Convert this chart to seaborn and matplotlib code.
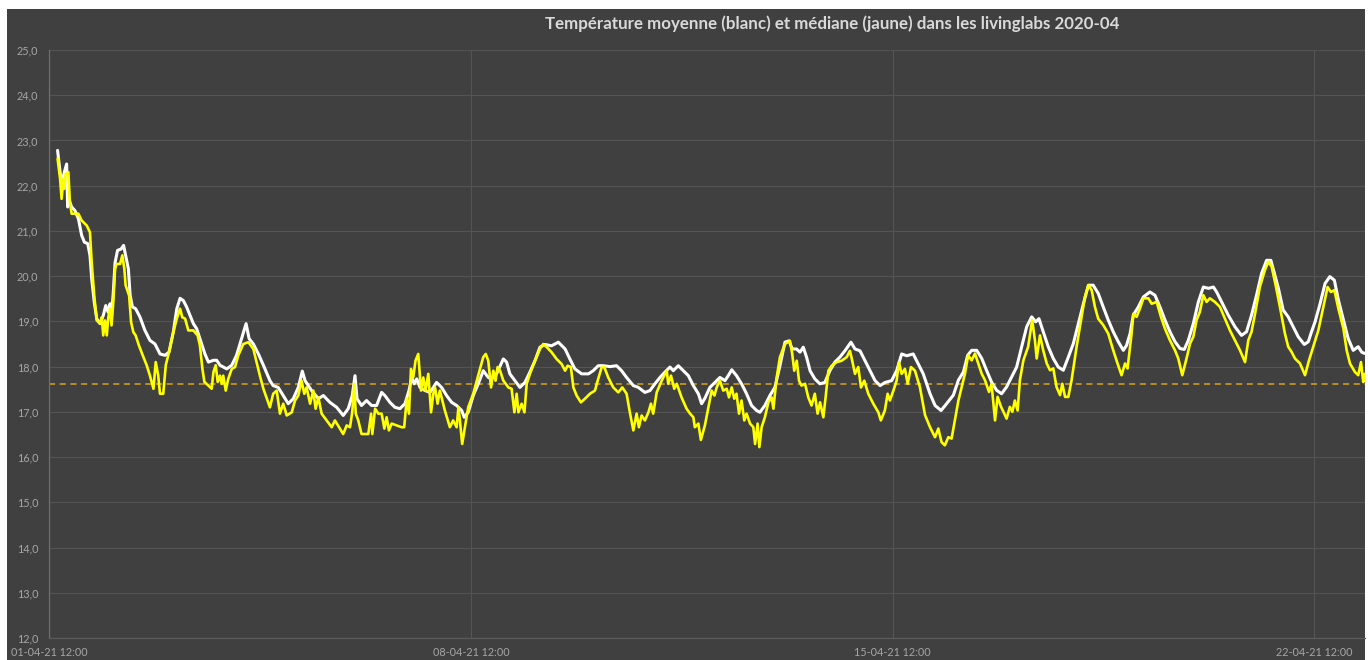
import matplotlib
matplotlib.use("Agg")
import matplotlib.pyplot as plt
import matplotlib.dates as mdates
from matplotlib.patches import Rectangle
from matplotlib.ticker import FuncFormatter, MultipleLocator
import numpy as np
import pandas as pd
import seaborn as sns

# ---------------- data ----------------
title = "Température moyenne (blanc) et médiane (jaune) dans les livinglabs 2020-04"
start_time = "2021-04-01 12:00"
tick_labels_times = ["2021-04-01 12:00", "2021-04-08 12:00", "2021-04-15 12:00", "2021-04-22 12:00"]
median_reference = 17.62

# hours after 01-04-21 12:00 and mean temperature (white)
mean_hours = [
    3.3, 4.3, 5.0, 6.0, 6.9, 7.3, 7.8, 8.9, 10.2, 11.6, 12.9, 14.0, 15.3, 16.2, 16.9, 17.9, 18.9, 20.2,
    21.5, 22.5, 23.5, 24.2, 24.8, 25.5, 26.2, 27.2, 28.6, 29.6, 30.4, 31.5, 32.2, 33.1, 34.4, 36.1, 38.1,
    40.1, 42.1, 44.1, 46.1, 47.7, 49.4, 50.8, 52.1, 53.4, 54.7, 56.1, 57.4, 58.7, 60.0, 62.0, 63.4, 65.4,
    66.7, 68.0, 70.7, 72.7, 74.6, 76.6, 78.4, 79.6, 81.3, 83.3, 85.3, 87.9, 89.2, 91.2, 93.2, 95.2, 97.2,
    99.2, 100.8, 101.9, 104.5, 107.2, 109.2, 111.8, 114.5, 117.1, 119.1, 120.7, 121.8, 122.6, 124.4,
    126.4, 128.4, 130.4, 132.4, 133.7, 135.7, 137.7, 139.7, 141.7, 143.3, 144.4, 145.4, 146.4, 147.7,
    149.7, 151.7, 153.0, 154.3, 156.3, 158.3, 160.3, 162.3, 164.3, 165.3, 166.9, 168.9, 170.9, 172.9,
    174.9, 176.2, 178.2, 180.9, 182.2, 183.5, 185.5, 187.5, 189.5, 191.5, 193.5, 195.5, 197.5, 200.1,
    202.8, 205.5, 207.4, 209.4, 212.1, 214.8, 216.7, 218.7, 220.7, 223.4, 226.0, 228.0, 230.0, 232.7,
    234.7, 237.3, 239.3, 241.3, 243.3, 245.3, 247.3, 248.6, 250.6, 252.6, 254.6, 256.6, 258.6, 259.9,
    261.2, 263.2, 265.2, 267.2, 269.2, 270.5, 271.9, 273.8, 275.8, 277.8, 279.8, 281.8, 283.1, 285.1,
    287.1, 289.1, 291.1, 293.1, 294.7, 296.0, 297.7, 299.1, 300.4, 301.7, 303.1, 305.0, 307.0, 309.0,
    311.0, 313.0, 315.0, 317.0, 319.4, 321.0, 323.0, 325.0, 327.0, 329.0, 331.0, 333.0, 335.6, 337.6,
    339.6, 341.6, 344.2, 346.2, 348.2, 350.9, 352.9, 355.3, 357.5, 360.2, 362.2, 364.2, 365.9, 367.5,
    369.5, 371.5, 373.4, 375.4, 377.4, 379.4, 381.4, 383.4, 385.4, 387.4, 389.4, 391.4, 393.0, 394.3,
    396.0, 398.0, 400.0, 402.0, 404.0, 406.0, 408.0, 410.0, 412.0, 414.0, 415.9, 417.9, 419.9, 421.9,
    423.9, 425.9, 427.9, 429.2, 430.6, 431.9, 433.9, 435.9, 438.5, 440.5, 442.5, 444.5, 446.5, 448.5,
    450.5, 452.2, 453.8, 455.8, 457.8, 459.8, 461.8, 463.8, 465.1, 467.1, 469.7, 472.4, 475.0, 477.0,
    479.0, 481.0, 483.0, 485.0, 486.7, 488.3, 489.7, 491.6, 493.6, 495.6, 497.6, 500.0, 501.6, 502.9,
    504.3, 506.3, 508.3, 510.2, 512.0, 513.6, 515.6, 517.5, 519.5, 521.5, 522.9, 524.1,
]
mean_temp = [
    22.78, 22.3, 22.04, 22.3, 22.48, 21.53, 21.7, 21.53, 21.45, 21.27, 20.9, 20.75, 20.72, 20.46, 19.94,
    19.43, 19.06, 18.95, 19.13, 19.35, 19.2, 19.39, 19.13, 19.65, 20.3, 20.57, 20.6, 20.68, 20.46, 20.16,
    19.58, 19.32, 19.28, 19.1, 18.8, 18.58, 18.5, 18.28, 18.25, 18.32, 18.76, 19.28, 19.51, 19.46, 19.32,
    19.13, 18.95, 18.84, 18.62, 18.28, 18.1, 18.14, 18.14, 18.03, 17.95, 18.03, 18.25, 18.62, 18.95,
    18.62, 18.5, 18.28, 18.03, 17.69, 17.58, 17.54, 17.36, 17.18, 17.29, 17.54, 17.9, 17.69, 17.47,
    17.29, 17.36, 17.21, 17.1, 16.92, 17.07, 17.36, 17.8, 17.29, 17.14, 17.25, 17.14, 17.14, 17.43,
    17.36, 17.21, 17.1, 17.07, 17.18, 17.47, 17.76, 17.62, 17.73, 17.54, 17.47, 17.43, 17.54, 17.65,
    17.54, 17.36, 17.21, 17.14, 17.03, 16.88, 16.99, 17.36, 17.62, 17.91, 17.76, 17.73, 17.84, 18.17,
    18.1, 17.84, 17.69, 17.54, 17.65, 17.88, 18.13, 18.43, 18.49, 18.46, 18.54, 18.39, 18.17, 17.95,
    17.84, 17.84, 17.91, 18.02, 18.02, 18.0, 18.02, 17.91, 17.76, 17.58, 17.54, 17.43, 17.47, 17.62,
    17.76, 17.88, 17.99, 17.91, 18.02, 17.91, 17.8, 17.58, 17.4, 17.18, 17.3, 17.54, 17.65, 17.76,
    17.69, 17.8, 17.93, 17.8, 17.62, 17.4, 17.14, 17.03, 16.99, 17.14, 17.36, 17.54, 18.02, 18.54,
    18.57, 18.39, 18.39, 18.32, 18.43, 18.21, 17.91, 17.73, 17.62, 17.65, 17.91, 18.1, 18.21, 18.35,
    18.54, 18.39, 18.35, 18.13, 17.91, 17.69, 17.58, 17.65, 17.69, 17.91, 18.28, 18.24, 18.28, 18.06,
    17.84, 17.4, 17.14, 17.03, 17.18, 17.37, 17.7, 17.88, 18.25, 18.36, 18.36, 18.18, 17.92, 17.66,
    17.48, 17.4, 17.55, 17.77, 17.99, 18.44, 18.88, 19.1, 18.99, 19.06, 18.77, 18.44, 18.18, 17.99,
    17.92, 18.21, 18.51, 18.95, 19.39, 19.8, 19.8, 19.62, 19.32, 19.03, 18.77, 18.55, 18.36, 18.47,
    18.73, 19.14, 19.32, 19.54, 19.65, 19.58, 19.32, 19.03, 18.77, 18.55, 18.4, 18.38, 18.58, 18.95,
    19.43, 19.76, 19.73, 19.76, 19.65, 19.43, 19.14, 18.88, 18.69, 18.77, 19.14, 19.58, 20.06, 20.35,
    20.35, 20.02, 19.73, 19.25, 19.1, 18.88, 18.66, 18.49, 18.55, 18.77, 18.99, 19.39, 19.84, 19.99,
    19.91, 19.47, 19.03, 18.62, 18.36, 18.44, 18.32, 18.29,
]

# hours after 01-04-21 12:00 and median temperature (yellow)
median_hours = [
    3.3, 4.3, 4.9, 5.6, 6.0, 6.5, 7.6, 8.2, 8.9, 11.6, 12.9, 14.9, 16.2, 16.9, 17.9, 18.9, 20.2, 20.9,
    21.5, 22.2, 22.9, 23.5, 24.2, 24.8, 25.5, 26.2, 26.8, 28.2, 29.1, 29.9, 30.4, 31.8, 32.6, 33.5, 34.4,
    35.7, 37.5, 38.8, 40.1, 41.5, 42.4, 43.4, 44.1, 45.4, 46.4, 47.7, 49.4, 50.8, 52.1, 53.0, 54.1, 55.4,
    57.4, 59.1, 60.0, 61.0, 61.8, 63.4, 64.7, 65.4, 66.3, 67.1, 68.0, 68.7, 69.3, 70.3, 71.3, 72.7, 74.0,
    75.3, 77.3, 79.3, 81.3, 82.6, 83.9, 85.3, 87.9, 89.2, 90.6, 91.9, 93.2, 94.6, 96.6, 97.9, 99.2, 100.5,
    101.6, 102.5, 103.9, 105.2, 106.1, 107.2, 108.5, 110.5, 112.5, 113.8, 115.8, 117.1, 118.5, 119.8,
    120.7, 121.5, 122.1, 123.1, 124.4, 127.1, 128.2, 128.7, 129.8, 131.1, 132.4, 133.5, 134.4, 135.3,
    136.4, 138.4, 140.4, 141.4, 142.4, 143.3, 144.1, 145.0, 145.9, 147.0, 148.1, 149.0, 149.9, 151.0,
    152.1, 153.0, 153.7, 154.7, 155.6, 157.6, 159.6, 160.9, 162.3, 163.0, 163.6, 164.5, 165.6, 166.9,
    168.9, 170.3, 171.6, 172.9, 173.9, 174.9, 176.0, 176.9, 177.8, 178.6, 179.6, 180.9, 182.9, 184.2,
    185.3, 186.2, 186.9, 188.2, 189.3, 190.2, 191.5, 193.5, 195.5, 196.8, 198.2, 200.1, 202.1, 204.1,
    205.5, 206.5, 207.8, 208.8, 210.1, 211.8, 213.4, 215.4, 217.4, 218.7, 220.1, 221.1, 222.7, 224.7,
    226.7, 228.3, 230.0, 231.4, 232.7, 234.0, 234.9, 236.0, 237.3, 238.7, 239.7, 240.6, 242.0, 244.0,
    246.0, 246.6, 247.7, 249.0, 250.0, 251.9, 253.9, 255.3, 256.6, 257.2, 258.6, 259.6, 261.2, 262.6,
    263.9, 265.0, 265.9, 267.2, 268.5, 269.9, 270.8, 271.9, 272.9, 273.8, 274.8, 275.8, 276.9, 277.8,
    279.2, 280.5, 281.2, 282.2, 282.9, 283.8, 285.1, 286.5, 287.8, 288.5, 289.8, 291.1, 293.1, 295.1,
    296.0, 296.8, 297.8, 298.7, 299.7, 301.1, 302.4, 303.7, 305.0, 306.1, 307.1, 308.4, 309.3, 310.4,
    311.7, 313.7, 315.7, 317.7, 319.0, 319.9, 321.0, 322.3, 323.4, 324.7, 326.3, 328.3, 330.3, 331.3,
    332.9, 334.0, 334.9, 336.3, 337.6, 338.5, 339.6, 340.9, 342.0, 343.3, 344.9, 346.9, 348.9, 350.9,
    352.9, 354.2, 355.5, 356.8, 358.2, 359.5, 360.8, 362.2, 363.5, 364.8, 366.1, 367.5, 368.8, 370.1,
    371.5, 372.8, 374.4, 375.4, 376.8, 377.8, 379.2, 380.5, 381.4, 382.7, 383.7, 384.7, 385.8, 386.7,
    388.1, 390.0, 391.6, 392.7, 393.4, 394.7, 396.0, 397.4, 398.7, 400.0, 401.3, 402.7, 403.6, 404.7,
    406.0, 407.3, 409.3, 411.3, 412.6, 414.0, 415.3, 416.6, 417.9, 419.9, 421.9, 423.9, 425.6, 427.2,
    428.6, 429.6, 431.2, 431.9, 433.2, 434.5, 435.9, 437.9, 439.2, 441.2, 442.9, 444.5, 446.5, 448.5,
    449.8, 451.4, 453.1, 454.5, 455.8, 457.1, 458.4, 459.8, 461.1, 462.4, 464.4, 466.4, 468.4, 470.4,
    472.4, 474.4, 476.4, 477.7, 479.0, 480.4, 482.3, 484.3, 485.7, 487.0, 488.6, 490.3, 492.3, 493.6,
    495.0, 496.3, 498.3, 500.3, 501.9, 503.6, 505.6, 507.6, 509.3, 510.6, 512.0, 513.6, 515.6, 516.9,
    518.2, 520.2, 521.5, 522.6, 523.5, 524.1,
]
median_temp = [
    22.6, 22.15, 21.71, 22.15, 21.93, 22.26, 22.3, 21.64, 21.38, 21.38, 21.23, 21.12, 20.97, 20.3, 19.57,
    19.02, 18.95, 19.09, 18.69, 19.02, 18.69, 19.09, 19.28, 18.91, 19.43, 20.16, 20.27, 20.27, 20.46,
    20.16, 19.8, 19.57, 18.98, 18.76, 18.69, 18.47, 18.21, 18.03, 17.8, 17.51, 18.1, 17.8, 17.4, 17.4,
    18.03, 18.32, 18.76, 19.06, 19.28, 19.09, 19.06, 18.8, 18.8, 18.69, 18.47, 17.95, 17.66, 17.58,
    17.51, 17.88, 18.03, 17.66, 17.8, 17.62, 17.8, 17.47, 17.73, 17.95, 17.99, 18.25, 18.5, 18.54,
    18.39, 18.1, 17.8, 17.51, 17.1, 17.4, 17.47, 16.96, 17.18, 16.92, 16.99, 17.25, 17.36, 17.69, 17.4,
    17.54, 17.18, 17.47, 17.07, 17.32, 16.96, 16.81, 16.66, 16.81, 16.63, 16.51, 16.7, 16.66, 16.99,
    17.62, 16.96, 16.81, 16.51, 16.51, 16.96, 16.51, 17.07, 16.96, 16.96, 16.63, 16.88, 16.59, 16.74,
    16.7, 16.66, 16.66, 17.29, 16.96, 17.95, 17.76, 18.13, 18.28, 17.47, 17.76, 17.47, 17.84, 16.99,
    17.4, 17.54, 17.18, 17.47, 17.03, 16.66, 16.81, 16.66, 17.1, 16.81, 16.29, 16.66, 17.1, 17.4, 17.69,
    17.95, 18.21, 18.28, 18.13, 17.54, 17.91, 17.69, 17.99, 17.91, 17.69, 17.54, 17.51, 16.99, 17.4,
    16.99, 17.18, 16.99, 17.62, 17.84, 18.13, 18.39, 18.5, 18.43, 18.32, 18.17, 18.06, 17.91, 18.02,
    17.99, 17.54, 17.36, 17.21, 17.29, 17.4, 17.47, 17.73, 17.99, 17.99, 17.76, 17.54, 17.43, 17.54,
    17.4, 16.96, 16.59, 16.96, 16.66, 16.92, 16.81, 16.99, 17.18, 16.96, 17.43, 17.69, 17.91, 17.62,
    17.8, 17.51, 17.62, 17.32, 17.07, 16.96, 16.88, 16.66, 16.74, 16.38, 16.7, 17.1, 17.47, 17.36,
    17.54, 17.69, 17.47, 17.51, 17.32, 17.54, 17.29, 17.4, 16.96, 17.25, 16.81, 16.96, 16.74, 16.66,
    16.29, 16.74, 16.22, 16.66, 16.88, 17.21, 17.32, 17.07, 17.76, 18.21, 18.5, 18.57, 18.28, 17.91,
    18.13, 17.69, 17.58, 17.62, 17.32, 17.14, 17.4, 16.96, 17.21, 16.88, 17.32, 17.91, 18.02, 18.1,
    18.13, 18.21, 18.35, 18.13, 17.84, 17.99, 17.54, 17.69, 17.4, 17.18, 16.99, 16.81, 17.03, 17.4,
    17.25, 17.47, 17.69, 18.1, 17.84, 17.95, 17.62, 17.99, 17.91, 17.54, 16.93, 16.66, 16.44, 16.63,
    16.33, 16.26, 16.44, 16.41, 16.81, 17.25, 17.55, 17.84, 18.25, 18.14, 18.29, 18.07, 17.84, 17.7,
    17.44, 17.62, 16.81, 17.33, 17.11, 16.96, 16.85, 17.11, 17.0, 17.25, 17.03, 17.7, 18.14, 18.44,
    19.03, 18.58, 18.18, 18.69, 18.36, 18.07, 17.92, 17.96, 17.55, 17.37, 17.62, 17.33, 17.33, 17.7,
    18.44, 19.1, 19.54, 19.8, 19.69, 19.32, 19.06, 18.92, 18.73, 18.36, 18.07, 17.81, 18.07, 17.96,
    18.73, 19.17, 19.1, 19.28, 19.51, 19.51, 19.39, 19.43, 19.1, 18.84, 18.58, 18.36, 18.18, 17.81,
    18.18, 18.51, 18.66, 19.03, 19.21, 19.58, 19.43, 19.51, 19.43, 19.32, 19.06, 18.8, 18.58, 18.36,
    18.1, 18.58, 18.77, 19.17, 19.76, 20.13, 20.32, 20.21, 19.8, 19.32, 18.73, 18.44, 18.32, 18.18,
    18.07, 17.81, 18.14, 18.44, 18.8, 19.32, 19.76, 19.65, 19.69, 19.28, 18.84, 18.36, 18.07, 17.88,
    17.81, 18.1, 17.66, 17.84,
]

# ---------------- build frames ----------------
t0 = pd.Timestamp(start_time)
mean_df = pd.DataFrame({"time": t0 + pd.to_timedelta(mean_hours, unit="h"), "temp": mean_temp})
median_df = pd.DataFrame({"time": t0 + pd.to_timedelta(median_hours, unit="h"), "temp": median_temp})

# ---------------- style ----------------
BG = "#404040"
GRID = "#545454"
sns.set_style("dark", rc={"axes.facecolor": BG, "figure.facecolor": "white",
                          "grid.color": GRID, "axes.edgecolor": GRID})
plt.rcParams["font.family"] = ["Lato", "DejaVu Sans"]

W, H = 1368, 660
fig = plt.figure(figsize=(W / 100, H / 100), dpi=100)
fig.patches.append(Rectangle((7 / W, 0), (1365 - 7) / W, 651 / H, transform=fig.transFigure,
                             facecolor=BG, edgecolor="none", zorder=-10))
ax = fig.add_axes([49.3 / W, 22 / H, (1365 - 49.3) / W, 588 / H])
ax.set_facecolor(BG)

sns.lineplot(data=mean_df, x="time", y="temp", ax=ax, color="white", linewidth=2.2,
             estimator=None, sort=False, zorder=3)
sns.lineplot(data=median_df, x="time", y="temp", ax=ax, color="#ffff00", linewidth=1.9,
             estimator=None, sort=False, zorder=4)
ax.axhline(median_reference, color="#d9a21b", linewidth=1.1, linestyle=(0, (4, 3)), zorder=2)

ax.set_ylim(12, 25)
ax.set_xlim(t0, t0 + pd.Timedelta(hours=524.2))
ax.yaxis.set_major_locator(MultipleLocator(1))
ax.yaxis.set_major_formatter(FuncFormatter(lambda v, p: f"{v:.1f}".replace(".", ",")))
ax.set_xticks(pd.to_datetime(tick_labels_times))
ax.xaxis.set_major_formatter(mdates.DateFormatter("%d-%m-%y %H:%M"))

ax.grid(True, axis="both", color=GRID, linewidth=0.8)
ax.set_axisbelow(True)
for side in ["top", "right"]:
    ax.spines[side].set_visible(False)
ax.spines["left"].set_color("#6e6e6e")
ax.spines["left"].set_linewidth(0.9)
ax.spines["bottom"].set_color("#5a5a5a")
ax.spines["bottom"].set_linewidth(0.9)

ax.tick_params(axis="both", length=0, labelsize=7.8, labelcolor="#a6a6a6")
ax.tick_params(axis="y", pad=8)
ax.tick_params(axis="x", pad=6.5)
ax.set_xlabel("")
ax.set_ylabel("")

fig.text(832 / W, 1 - 24 / H, title, ha="center", va="center", fontsize=12.2,
         fontweight="bold", color="#d9d9d9")

fig.savefig("out.png", dpi=100, facecolor="white")
